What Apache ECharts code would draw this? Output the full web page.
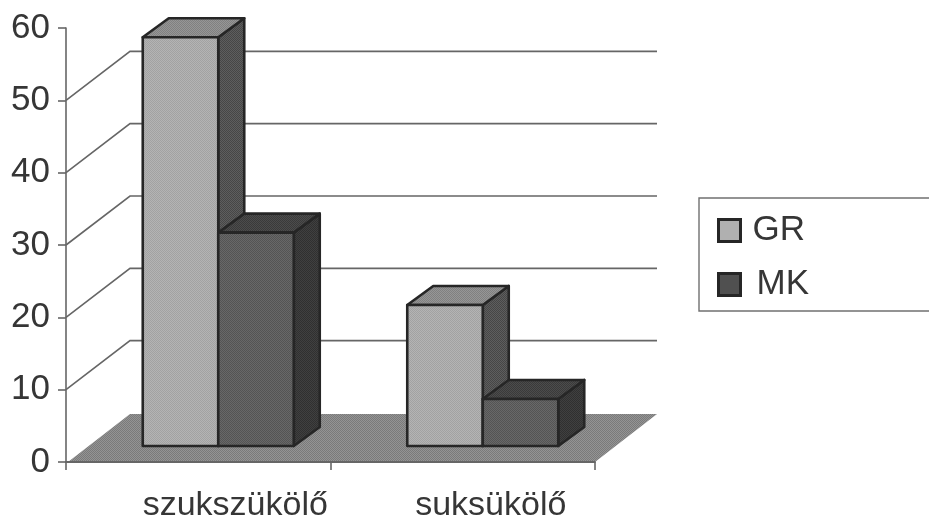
<!DOCTYPE html>
<html>
<head>
<meta charset="utf-8">
<style>html,body{margin:0;padding:0;background:#fff}#chart{width:929px;height:515px}</style>
<script src="https://cdn.jsdelivr.net/npm/echarts@6/dist/echarts.min.js"></script>
</head>
<body>
<div id="chart"></div>
<script>
// Values per group
const categories = ['szukszükölő', 'suksükölő'];
const grValues = [56.5, 19.5];
const mkValues = [29.5, 6.5];
const wallLevels = [10, 20, 30, 40, 50];
const floorLevel = [0];

// Oblique projection of the chart box, in pixels
const WALL_DX = 64, WALL_DY = 49, FLOOR_DY = 48;
const BAR_SHIFT_X = 20, BAR_SHIFT_Y = 16;
const BAR_W = 75.5, BAR_DX = 26, BAR_DY = 19;
const EDGE = '#262626', RULE = '#666666', INK = '#363636';

// Group labels sit right of their band centre; shift by doubled left padding
const labelPadding = [74, 56];

// Fine halftone fill for the printed surfaces
function dither(a, b) {
  const c = document.createElement('canvas');
  c.width = c.height = 2;
  const g = c.getContext('2d');
  g.fillStyle = a; g.fillRect(0, 0, 2, 2);
  g.fillStyle = b; g.fillRect(0, 0, 1, 1); g.fillRect(1, 1, 1, 1);
  return { image: c, repeat: 'repeat' };
}

const grFaces = { front: dither('#b4b4b4', '#a2a2a2'), top: dither('#969696', '#808080'), side: dither('#5e5e5e', '#464646') };
const mkFaces = { front: dither('#686868', '#545454'), top: dither('#4c4c4c', '#3a3a3a'), side: dither('#404040', '#303030') };
const floorFill = dither('#949494', '#7a7a7a');

// One oblique box: front, top and right faces
function boxRenderer(faces, side) {
  return function (params, api) {
    const i = api.value(0);
    const top = api.coord([i, api.value(1)]);
    const base = api.coord([i, 0]);
    const edgeX = top[0] + BAR_SHIFT_X;
    const x0 = side < 0 ? edgeX - BAR_W : edgeX;
    const x1 = x0 + BAR_W;
    const yT = top[1] - BAR_SHIFT_Y, yB = base[1] - BAR_SHIFT_Y;
    const stroke = { stroke: EDGE, lineWidth: 2.6, lineJoin: 'round' };
    const poly = (points, fill) => ({ type: 'polygon', shape: { points }, style: { fill, ...stroke } });
    return {
      type: 'group',
      children: [
        poly([[x1, yT], [x1 + BAR_DX, yT - BAR_DY], [x1 + BAR_DX, yB - BAR_DY], [x1, yB]], faces.side),
        poly([[x0, yT], [x0 + BAR_DX, yT - BAR_DY], [x1 + BAR_DX, yT - BAR_DY], [x1, yT]], faces.top),
        poly([[x0, yT], [x1, yT], [x1, yB], [x0, yB]], faces.front)
      ]
    };
  };
}

// Rule running up the side wall and along the back wall
function wallRule(params, api) {
  const y = api.coord([0, api.value(0)])[1];
  const g = params.coordSys;
  return {
    type: 'polyline',
    shape: { points: [[g.x, y], [g.x + WALL_DX, y - WALL_DY], [g.x + g.width + WALL_DX - 2, y - WALL_DY]] },
    style: { fill: 'none', stroke: RULE, lineWidth: 1.6 }
  };
}

function floorPlane(params, api) {
  const y = api.coord([0, api.value(0)])[1];
  const g = params.coordSys;
  return {
    type: 'polygon',
    shape: { points: [[g.x + 2, y], [g.x + WALL_DX, y - FLOOR_DY], [g.x + g.width + WALL_DX - 2, y - FLOOR_DY], [g.x + g.width, y]] },
    style: { fill: floorFill }
  };
}

const chart = echarts.init(document.getElementById('chart'), null, { renderer: 'canvas' });
chart.setOption({
  animation: false,
  backgroundColor: '#ffffff',
  textStyle: { fontFamily: '"Liberation Sans", Arial, sans-serif' },
  grid: { left: 66, right: 334, top: 28, bottom: 53, outerBoundsMode: 'none' },
  xAxis: {
    type: 'category',
    data: categories.map((name, i) => ({ value: name, textStyle: { padding: [0, 0, 0, labelPadding[i]] } })),
    axisLine: { show: true, lineStyle: { color: RULE, width: 1.8 } },
    axisTick: { show: true, length: 8, alignWithLabel: false, lineStyle: { color: RULE, width: 1.6 } },
    axisLabel: { color: INK, fontSize: 34, margin: 27, hideOverlap: false },
    z: 5
  },
  yAxis: {
    type: 'value',
    min: 0, max: 60, interval: 10,
    axisLine: { show: true, lineStyle: { color: RULE, width: 1.6 } },
    axisTick: { show: true, length: 8, lineStyle: { color: RULE, width: 1.6 } },
    axisLabel: { color: INK, fontSize: 35, margin: 16 },
    splitLine: { show: false }
  },
  legend: {
    orient: 'vertical',
    left: 712, top: 208,
    itemWidth: 22, itemHeight: 22, itemGap: 19,
    icon: 'rect',
    data: [
      { name: 'GR', itemStyle: { color: '#b0b0b0', borderColor: EDGE, borderWidth: 3 }, textStyle: { padding: [0, 0, 0, 7] } },
      { name: 'MK', itemStyle: { color: '#505050', borderColor: EDGE, borderWidth: 3 }, textStyle: { padding: [0, 0, 0, 11] } }
    ],
    textStyle: { color: INK, fontSize: 35 },
    selectedMode: false
  },
  graphic: [{
    type: 'polyline',
    shape: { points: [[929, 198], [699, 198], [699, 311], [929, 311]] },
    style: { fill: 'none', stroke: '#707070', lineWidth: 1.4 }
  }],
  series: [
    { type: 'custom', name: 'walls', coordinateSystem: 'cartesian2d', data: wallLevels.map(v => [v]), encode: { y: 0 }, renderItem: wallRule, silent: true, z: 1 },
    { type: 'custom', name: 'floor', coordinateSystem: 'cartesian2d', data: floorLevel.map(v => [v]), encode: { y: 0 }, renderItem: floorPlane, silent: true, z: 2 },
    { type: 'custom', name: 'GR', coordinateSystem: 'cartesian2d', data: grValues.map((v, i) => [i, v]), encode: { x: 0, y: 1 }, renderItem: boxRenderer(grFaces, -1), itemStyle: { color: '#b0b0b0' }, z: 6 },
    { type: 'custom', name: 'MK', coordinateSystem: 'cartesian2d', data: mkValues.map((v, i) => [i, v]), encode: { x: 0, y: 1 }, renderItem: boxRenderer(mkFaces, 1), itemStyle: { color: '#505050' }, z: 7 }
  ]
});
</script>
</body>
</html>
